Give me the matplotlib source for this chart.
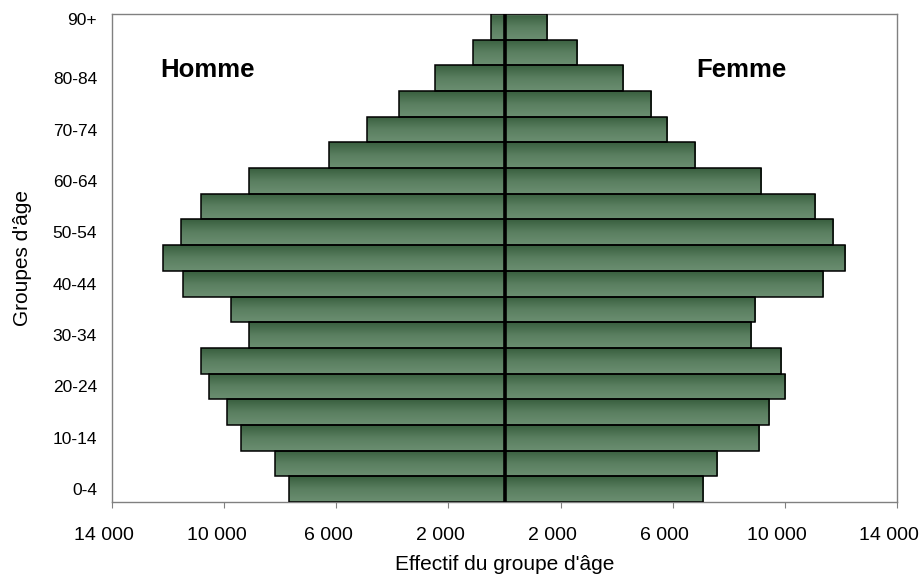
import numpy as np
import matplotlib
matplotlib.use("Agg")
import matplotlib.pyplot as plt
from matplotlib.colors import LinearSegmentedColormap
from matplotlib.transforms import ScaledTranslation

plt.rcParams["font.family"] = ["Liberation Sans", "DejaVu Sans"]

# Age groups, bottom to top
groupes = ["0-4", "5-9", "10-14", "15-19", "20-24", "25-29", "30-34", "35-39",
           "40-44", "45-49", "50-54", "55-59", "60-64", "65-69", "70-74",
           "75-79", "80-84", "85-89", "90+"]
hommes = [7700, 8200, 9410, 9910, 10560, 10840, 9130, 9770, 11490, 12200,
          11560, 10840, 9130, 6270, 4910, 3770, 2490, 1140, 475]
femmes = [7090, 7590, 9090, 9440, 10010, 9870, 8800, 8940, 11370, 12170,
          11730, 11100, 9160, 6810, 5800, 5230, 4230, 2590, 1510]
x_ticks = [-14000, -10000, -6000, -2000, 2000, 6000, 10000, 14000]

fig = plt.figure(figsize=(9.23, 5.76), dpi=100)
ax = fig.add_axes([0.1217, 0.1285, 0.8498, 0.8472])

y = np.arange(len(groupes))
bars_h = ax.barh(y, [-v for v in hommes], height=1.0, color="none",
                 edgecolor="black", linewidth=1.1, zorder=3)
bars_f = ax.barh(y, femmes, height=1.0, color="none",
                 edgecolor="black", linewidth=1.1, zorder=3)

# vertical gradient fill (dark at top, lighter below)
cmap = LinearSegmentedColormap.from_list("vert", ["#395f3f", "#5a7f60", "#6b8e71"])
grad = np.linspace(1, 0, 64).reshape(-1, 1)
for bar in list(bars_h) + list(bars_f):
    x0, y0 = bar.get_x(), bar.get_y()
    w, h = bar.get_width(), bar.get_height()
    im = ax.imshow(grad, extent=[x0, x0 + w, y0, y0 + h], origin="lower",
                   aspect="auto", cmap=cmap, vmin=0, vmax=1, zorder=2)
    im.set_clip_path(bar)

ax.axvline(0, color="black", linewidth=2.6, zorder=4)

ax.set_xlim(-14000, 14000)
ax.set_ylim(-0.5, len(groupes) - 0.5)

ax.set_xticks(x_ticks)
ax.set_xticklabels([f"{abs(v):,}".replace(",", " ") for v in x_ticks], fontsize=14)
ax.set_yticks(y[::2])
ax.set_yticklabels(groupes[::2], fontsize=12.5)
ax.tick_params(axis="x", length=4, color="#808080", pad=14)
ax.tick_params(axis="y", length=0, pad=11)

# x labels sit a little left of their ticks in the original
shift = ScaledTranslation(-8 / 100, 0, fig.dpi_scale_trans)
for lbl in ax.get_xticklabels():
    lbl.set_transform(lbl.get_transform() + shift)

# top label sits a bit higher in the original
lbl = ax.get_yticklabels()[-1]
lbl.set_transform(lbl.get_transform() + ScaledTranslation(0, 8 / 100, fig.dpi_scale_trans))

for s in ax.spines.values():
    s.set_color("#808080")
    s.set_linewidth(1.0)

ax.set_xlabel("Effectif du groupe d'âge", fontsize=15, labelpad=8)
ax.set_ylabel("Groupes d'âge", fontsize=15, labelpad=15)

ax.text(0.061, 0.885, "Homme", transform=ax.transAxes, fontsize=18.5,
        fontweight="bold", va="center", ha="left")
ax.text(0.745, 0.885, "Femme", transform=ax.transAxes, fontsize=18.5,
        fontweight="bold", va="center", ha="left")

fig.savefig("out.png", dpi=100)
